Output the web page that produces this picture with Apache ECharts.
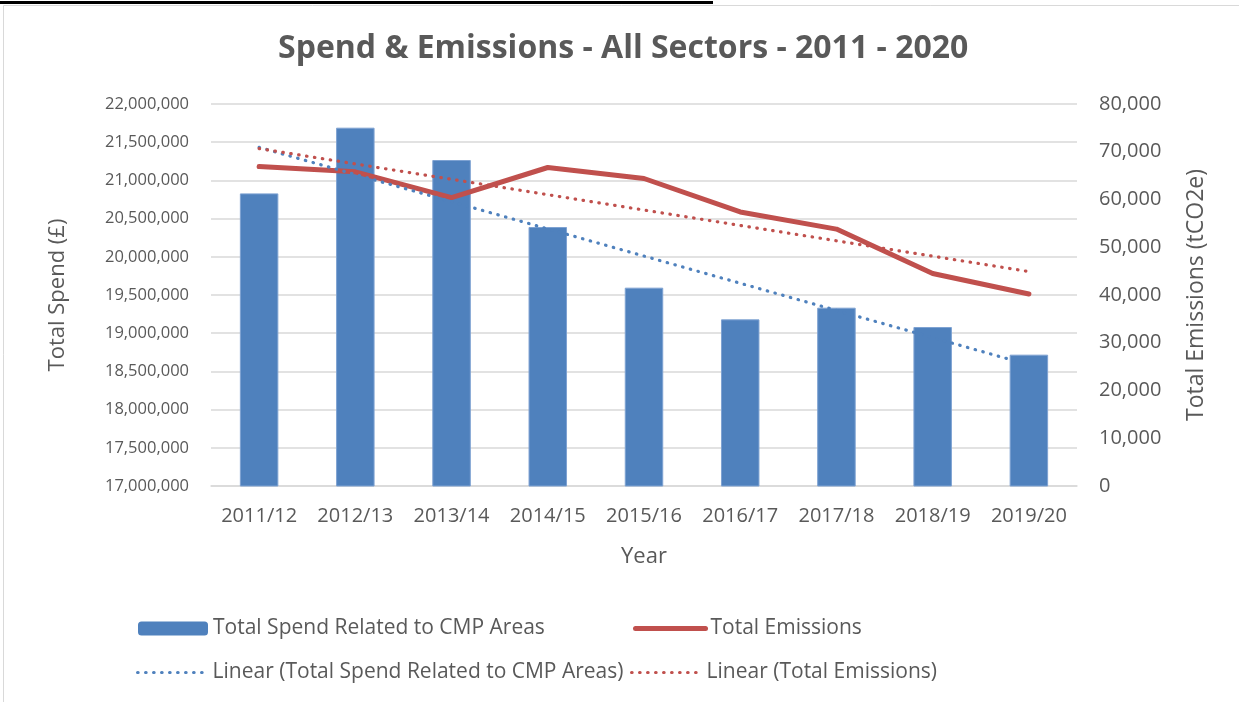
<!DOCTYPE html>
<html>
<head>
<meta charset="utf-8">
<script src="https://cdn.jsdelivr.net/npm/echarts@6/dist/echarts.min.js"></script>
<style>
html,body{margin:0;padding:0;background:#fff;}
#chart{width:1239px;height:702px;}
</style>
</head>
<body>
<div id="chart"></div>
<script>
const categories = ['2011/12','2012/13','2013/14','2014/15','2015/16','2016/17','2017/18','2018/19','2019/20'];
const spend = [20830000, 21690000, 21267000, 20390000, 19596000, 19181000, 19334000, 19081000, 18719000];
const emissions = [66900, 65800, 60400, 66700, 64400, 57400, 53800, 44500, 40200];
const leftTicks = [17000000, 22000000, 500000];
const rightTicks = [0, 80000, 10000];

// Least-squares linear trend of a series (as drawn by the spreadsheet's "Linear" trendline)
function linearTrend(vals) {
  const n = vals.length;
  let sx = 0, sy = 0, sxy = 0, sxx = 0;
  vals.forEach((v, i) => { sx += i; sy += v; sxy += i * v; sxx += i * i; });
  const b = (n * sxy - sx * sy) / (n * sxx - sx * sx);
  const a = (sy - b * sx) / n;
  return vals.map((_, i) => a + b * i);
}
const spendTrend = linearTrend(spend);
const emissionsTrend = linearTrend(emissions);

const FONT = 'Open Sans';
const TXT = '#595959';
const BLUE = '#4F81BD';
const RED = '#C0504D';
const fmt = v => v.toLocaleString('en-US');
const DOTS = [0.5, 7.5];

const chart = echarts.init(document.getElementById('chart'), null, {renderer: 'canvas'});
const legendBase = {
  orient: 'horizontal',
  itemWidth: 70, itemHeight: 14, itemGap: 6,
  textStyle: {fontFamily: FONT, fontSize: 21, color: TXT},
  selectedMode: false
};
chart.setOption({
  animation: false,
  backgroundColor: '#fff',
  title: {
    text: 'Spend & Emissions - All Sectors - 2011 - 2020',
    left: 273, top: 28,
    textStyle: {fontFamily: FONT, fontSize: 32, fontWeight: 'bold', color: TXT}
  },
  grid: {left: 211, right: 162, top: 104, bottom: 216, containLabel: false},
  legend: [
    Object.assign({}, legendBase, {left: 133, top: 613, itemStyle: {borderWidth: 0}, data: ['Total Spend Related to CMP Areas']}),
    Object.assign({}, legendBase, {left: 628, top: 613, itemStyle: {opacity: 0}, lineStyle: {width: 5, cap: 'round'}, data: ['Total Emissions']}),
    Object.assign({}, legendBase, {left: 131, top: 657, itemStyle: {opacity: 0}, lineStyle: {width: 3.2, type: DOTS, cap: 'round'}, data: ['Linear (Total Spend Related to CMP Areas)']}),
    Object.assign({}, legendBase, {left: 625, top: 657, itemStyle: {opacity: 0}, lineStyle: {width: 3.2, type: DOTS, cap: 'round'}, data: ['Linear (Total Emissions)']})
  ],
  xAxis: {
    type: 'category', data: categories,
    name: 'Year', nameLocation: 'middle', nameGap: 60,
    nameTextStyle: {fontFamily: FONT, fontSize: 22, color: TXT},
    axisLine: {show: true, lineStyle: {color: '#d9d9d9', width: 1.5}},
    axisTick: {show: false},
    axisLabel: {fontFamily: FONT, fontSize: 20, color: TXT, margin: 20, interval: 0, hideOverlap: false}
  },
  yAxis: [
    {
      type: 'value', min: leftTicks[0], max: leftTicks[1], interval: leftTicks[2],
      name: 'Total Spend (£)', nameLocation: 'middle', nameGap: 142,
      nameTextStyle: {fontFamily: FONT, fontSize: 22, color: TXT},
      axisLine: {show: false}, axisTick: {show: false},
      axisLabel: {fontFamily: FONT, fontSize: 16.5, color: TXT, margin: 22, formatter: fmt},
      splitLine: {lineStyle: {color: '#d9d9d9', width: 1.5}}
    },
    {
      type: 'value', min: rightTicks[0], max: rightTicks[1], interval: rightTicks[2],
      name: 'Total Emissions (tCO2e)', nameLocation: 'middle', nameGap: 108,
      nameTextStyle: {fontFamily: FONT, fontSize: 23, color: TXT},
      axisLine: {show: false}, axisTick: {show: false},
      axisLabel: {fontFamily: FONT, fontSize: 20, color: TXT, margin: 22, formatter: fmt},
      splitLine: {show: false}
    }
  ],
  series: [
    {
      name: 'Total Spend Related to CMP Areas', type: 'bar', data: spend,
      barWidth: '40%', itemStyle: {color: BLUE, borderColor: '#7ea2d2', borderWidth: 1}
    },
    {
      name: 'Total Emissions', type: 'line', yAxisIndex: 1, data: emissions,
      symbol: 'none', lineStyle: {color: RED, width: 5, cap: 'round', join: 'round'},
      itemStyle: {color: RED}
    },
    {
      name: 'Linear (Total Spend Related to CMP Areas)', type: 'line', data: spendTrend,
      symbol: 'none', lineStyle: {color: BLUE, width: 3.2, type: DOTS, cap: 'round'},
      itemStyle: {color: BLUE}
    },
    {
      name: 'Linear (Total Emissions)', type: 'line', yAxisIndex: 1, data: emissionsTrend,
      symbol: 'none', lineStyle: {color: RED, width: 3.2, type: DOTS, cap: 'round'},
      itemStyle: {color: RED}
    }
  ],
  graphic: [
    {type: 'rect', shape: {x: 3.5, y: 5.5, width: 1260, height: 720}, style: {fill: 'none', stroke: '#d9d9d9', lineWidth: 1}, silent: true},
    {type: 'rect', shape: {x: 0, y: 1, width: 713, height: 3}, style: {fill: '#000'}, silent: true}
  ]
});
</script>
</body>
</html>
